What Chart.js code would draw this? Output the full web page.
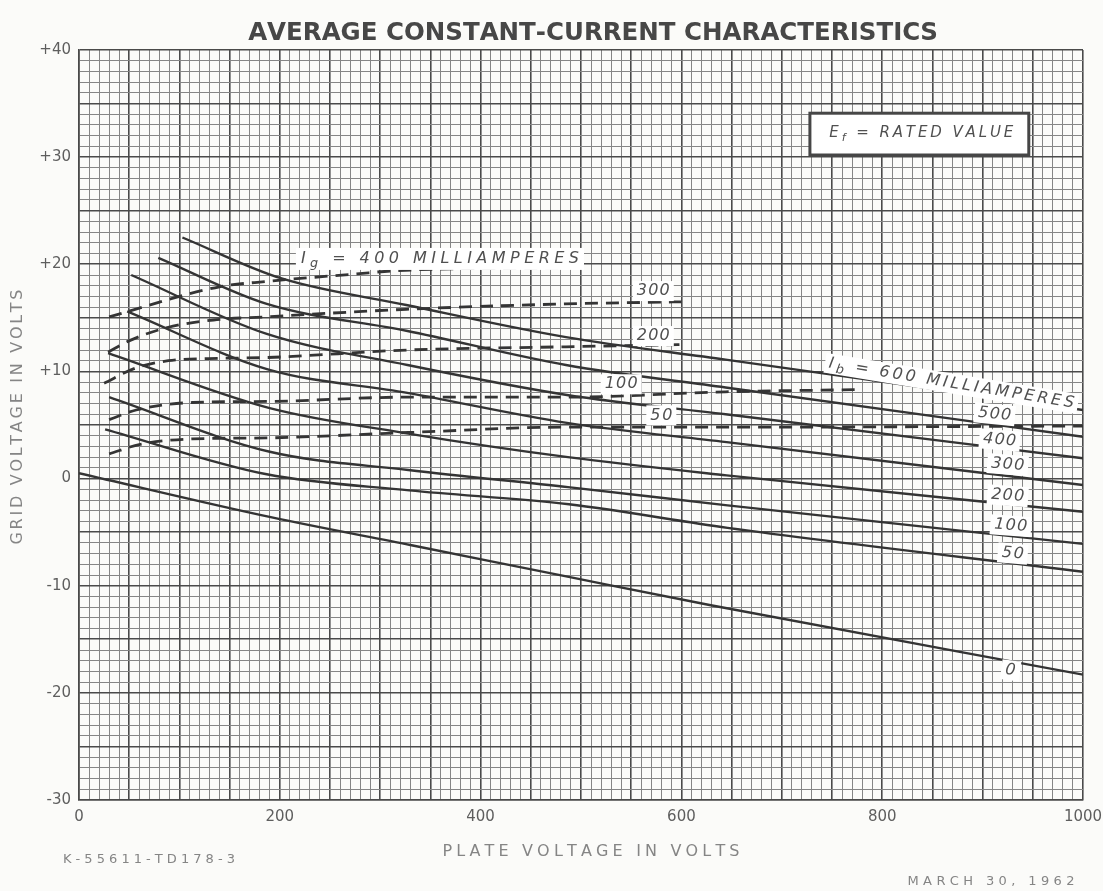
<!DOCTYPE html>
<html>
<head>
<meta charset="utf-8">
<title>Average Constant-Current Characteristics</title>
<script src="https://cdn.jsdelivr.net/npm/chart.js@4.4.1/dist/chart.umd.min.js"></script>
<style>
  html, body { margin: 0; padding: 0; background: #fbfbf9; }
  #wrap { width: 1103px; height: 891px; }
</style>
</head>
<body>
<div id="wrap"><canvas id="chart" width="1103" height="891"></canvas></div>
<script>
"use strict";

// ── DATA: constant plate-current curves, Ib (mA) ──
//    plate volts / grid volts
const ib0Plate   = [0, 191, 330, 489, 628, 1000];
const ib0Grid    = [0.5, -3.6, -6.2, -9.2, -11.8, -18.3];
const ib50Plate  = [26, 187, 329, 488, 646, 1000];
const ib50Grid   = [4.6, 0.4, -1.1, -2.4, -4.6, -8.7];
const ib100Plate = [30, 190, 328, 487, 646, 1000];
const ib100Grid  = [7.6, 2.5, 0.8, -0.8, -2.5, -6.1];
const ib200Plate = [29, 189, 328, 487, 645, 1000];
const ib200Grid  = [11.7, 6.6, 4.2, 2.0, 0.3, -3.1];
const ib300Plate = [48, 188, 327, 486, 645, 1000];
const ib300Grid  = [15.6, 10.2, 8.0, 5.2, 3.4, -0.6];
const ib400Plate = [52, 187, 327, 486, 644, 1000];
const ib400Grid  = [19.0, 13.5, 10.6, 7.8, 6.0, 1.9];
const ib500Plate = [79, 187, 326, 485, 644, 1000];
const ib500Grid  = [20.6, 16.3, 13.8, 10.6, 8.5, 3.9];
const ib600Plate = [103, 201, 326, 485, 644, 1000];
const ib600Grid  = [22.5, 18.7, 16.2, 13.2, 11.1, 6.4];

// ── DATA: constant grid-current curves, Ig (mA), dashed ──
const ig50Plate  = [30, 61, 113, 189, 328, 486, 644, 1000];
const ig50Grid   = [2.3, 3.2, 3.7, 3.8, 4.3, 4.8, 4.8, 4.9];
const ig100Plate = [30, 57, 113, 189, 327, 485, 644, 775];
const ig100Grid  = [5.5, 6.4, 7.1, 7.2, 7.6, 7.6, 8.1, 8.3];
const ig200Plate = [25, 56, 89, 129, 188, 327, 485, 600];
const ig200Grid  = [8.9, 10.3, 11.0, 11.2, 11.3, 12.0, 12.3, 12.5];
const ig300Plate = [29, 51, 88, 134, 187, 326, 484, 600];
const ig300Grid  = [11.8, 12.9, 14.1, 14.8, 15.1, 15.8, 16.3, 16.5];
const ig400Plate = [30, 140, 187, 276, 315, 498];
const ig400Grid  = [15.1, 17.9, 18.4, 19.1, 19.4, 19.7];

// ── AXES ──
const plateMin = 0,   plateMax = 1000, plateStep = 10, plateLabelEvery = 200;
const gridMin  = -30, gridMax  = 40,   gridStep  = 1,  gridLabelEvery  = 10;

// ── CURVE TAGS (text, plate volts, grid volts) ──
const ibTagText  = ["500", "400", "300", "200", "100", "50", "0"];
const ibTagPlate = [912, 917, 925, 925, 928, 930, 928];
const ibTagGrid  = [6.0, 3.6, 1.3, -1.6, -4.4, -7.0, -17.9];
const igTagText  = ["300", "200", "100", "50"];
const igTagPlate = [572, 572, 540, 580];
const igTagGrid  = [17.5, 13.3, 8.8, 5.9];
const igTitlePlate = [221, 498];
const igTitleGrid  = [20.5, 20.5];
const ibTitlePlate = [747, 991];
const ibTitleGrid  = [10.75, 7.0];
const efBoxPlate = [728, 946];
const efBoxGrid  = [30.2, 34.1];

// ── STYLE ──
const FONT       = "'DejaVu Sans', sans-serif";
const INK        = "#343434";
const GRID_MINOR = "#858585";
const GRID_MAJOR = "#4a4a4a";
const TICK_COL   = "#5e5e5e";
const NOTE_COL   = "#505050";
const PALE_COL   = "#858585";

const curve = (xs, ys) => xs.map((x, i) => ({ x, y: ys[i] }));

function solid(xs, ys) {
  return {
    data: curve(xs, ys), borderColor: INK, borderWidth: 2.4,
    pointRadius: 0, tension: 0.4, cubicInterpolationMode: "monotone", fill: false,
  };
}
function dashed(xs, ys) {
  return Object.assign(solid(xs, ys), { borderDash: [13, 8], borderWidth: 2.8 });
}


/* ══════════════════════════════════════════
   TEXT HELPERS (letter-spaced runs, subscripts)
══════════════════════════════════════════ */
// run = [text, sizeFactor, dyFactor]
function measureRuns(ctx, runs, style, size) {
  let w = 0, n = 0;
  runs.forEach(([t, k]) => {
    ctx.font = `${style} ${size * k}px ${FONT}`;
    for (const ch of t) { w += ctx.measureText(ch).width; n++; }
  });
  return { w, n };
}

function drawRuns(ctx, runs, style, size, x, y, width) {
  const m = measureRuns(ctx, runs, style, size);
  const total = width || m.w;
  const gap = width ? (width - m.w) / (m.n - 1) : 0;
  let cx = x - total / 2;
  ctx.textAlign = "left";
  ctx.textBaseline = "middle";
  runs.forEach(([t, k, dy]) => {
    ctx.font = `${style} ${size * k}px ${FONT}`;
    for (const ch of t) {
      ctx.fillText(ch, cx, y + (dy || 0) * size);
      cx += ctx.measureText(ch).width + gap;
    }
  });
  return total;
}

// white-backed tag, rotated by angle (radians)
function tag(ctx, runs, size, x, y, angle, width, padX, padY) {
  const m = measureRuns(ctx, runs, "italic", size);
  const w = width || m.w;
  ctx.save();
  ctx.translate(x, y);
  ctx.rotate(angle);
  ctx.fillStyle = "#ffffff";
  ctx.fillRect(-w / 2 - padX, -size / 2 - padY, w + 2 * padX, size + 2 * padY);
  ctx.fillStyle = NOTE_COL;
  drawRuns(ctx, runs, "italic", size, 0, 0, width);
  ctx.restore();
}


/* ══════════════════════════════════════════
   PLUGIN — curve labels, box, page lettering
══════════════════════════════════════════ */
const sheetText = {
  id: "sheetText",
  afterDatasetsDraw(chart) {
    const ctx = chart.ctx;
    const xs = chart.scales.x, ys = chart.scales.y;
    const px = v => xs.getPixelForValue(v);
    const py = g => ys.getPixelForValue(g);

    // Ef box
    const bx0 = px(efBoxPlate[0]), bx1 = px(efBoxPlate[1]);
    const by0 = py(efBoxGrid[1]),  by1 = py(efBoxGrid[0]);
    ctx.save();
    ctx.fillStyle = "#ffffff";
    ctx.fillRect(bx0, by0, bx1 - bx0, by1 - by0);
    ctx.lineWidth = 3;
    ctx.strokeStyle = "#464646";
    ctx.strokeRect(bx0, by0, bx1 - bx0, by1 - by0);
    ctx.fillStyle = NOTE_COL;
    drawRuns(ctx, [["E", 1, 0], ["f", 0.75, 0.3], [" = RATED VALUE", 1, 0]], "italic", 15,
             (bx0 + bx1) / 2 + 2, (by0 + by1) / 2 - 1, 184);
    ctx.restore();

    // Ig = 400 MILLIAMPERES
    ctx.save();
    const igx0 = px(igTitlePlate[0]), igx1 = px(igTitlePlate[1]);
    const igy = py((igTitleGrid[0] + igTitleGrid[1]) / 2);
    tag(ctx, [["I", 1, 0], ["g", 0.8, 0.3], [" = 400 MILLIAMPERES", 1, 0]], 16,
        (igx0 + igx1) / 2, igy, 0, igx1 - igx0, 5, 3);
    ctx.restore();

    // Ib = 600 MILLIAMPERES (follows the curve)
    ctx.save();
    const ax = px(ibTitlePlate[0]), ay = py(ibTitleGrid[0]);
    const bx = px(ibTitlePlate[1]), by = py(ibTitleGrid[1]);
    const ang = Math.atan2(by - ay, bx - ax);
    tag(ctx, [["I", 1, 0], ["b", 0.8, 0.3], [" = 600 MILLIAMPERES", 1, 0]], 16,
        (ax + bx) / 2, (ay + by) / 2, ang, Math.hypot(bx - ax, by - ay), 4, 2);
    ctx.restore();

    // Ib tags on the right, tilted like their curves
    const ibCurves = [ib500Plate, ib400Plate, ib300Plate, ib200Plate, ib100Plate, ib50Plate, ib0Plate];
    const ibGrids  = [ib500Grid,  ib400Grid,  ib300Grid,  ib200Grid,  ib100Grid,  ib50Grid,  ib0Grid];
    ibTagText.forEach((t, i) => {
      const cx = ibCurves[i], cg = ibGrids[i], n = cx.length;
      const a = Math.atan2(py(cg[n - 1]) - py(cg[n - 2]), px(cx[n - 1]) - px(cx[n - 2]));
      ctx.save();
      tag(ctx, [[t, 1, 0]], 16, px(ibTagPlate[i]), py(ibTagGrid[i]), a * 0.7, t.length * 11, 4, 2);
      ctx.restore();
    });

    // Ig tags
    igTagText.forEach((t, i) => {
      ctx.save();
      tag(ctx, [[t, 1, 0]], 16, px(igTagPlate[i]), py(igTagGrid[i]), 0, t.length * 11, 4, 2);
      ctx.restore();
    });
  },

  afterDraw(chart) {
    const ctx = chart.ctx;
    ctx.save();

    // Title
    ctx.fillStyle = "#474747";
    const tRuns = [["AVERAGE CONSTANT-CURRENT CHARACTERISTICS", 1, 0]];
    const natural = measureRuns(ctx, tRuns, "bold", 24).w;
    drawRuns(ctx, tRuns, "bold", 24 * 690 / natural, 593, 34, 0);

    // Axis titles
    ctx.fillStyle = PALE_COL;
    drawRuns(ctx, [["PLATE VOLTAGE IN VOLTS", 1, 0]], "normal", 16, 591, 852, 297);
    ctx.save();
    ctx.translate(18, 417);
    ctx.rotate(-Math.PI / 2);
    drawRuns(ctx, [["GRID VOLTAGE IN VOLTS", 1, 0]], "normal", 16, 0, 0, 255);
    ctx.restore();

    // Drawing number and date
    drawRuns(ctx, [["K-55611-TD178-3", 1, 0]], "normal", 13, 149, 860, 172);
    drawRuns(ctx, [["MARCH 30, 1962", 1, 0]], "normal", 13, 991, 882, 167);

    ctx.restore();
  }
};


/* ══════════════════════════════════════════
   CHART
══════════════════════════════════════════ */
new Chart(document.getElementById("chart"), {
  type: "line",
  data: {
    datasets: [
      solid(ib0Plate, ib0Grid),
      solid(ib50Plate, ib50Grid),
      solid(ib100Plate, ib100Grid),
      solid(ib200Plate, ib200Grid),
      solid(ib300Plate, ib300Grid),
      solid(ib400Plate, ib400Grid),
      solid(ib500Plate, ib500Grid),
      solid(ib600Plate, ib600Grid),
      dashed(ig50Plate, ig50Grid),
      dashed(ig100Plate, ig100Grid),
      dashed(ig200Plate, ig200Grid),
      dashed(ig300Plate, ig300Grid),
      dashed(ig400Plate, ig400Grid),
    ]
  },
  options: {
    responsive: false,
    animation: false,
    events: [],
    layout: { padding: { top: 50, right: 20, bottom: 0, left: 0 } },
    plugins: { legend: { display: false }, tooltip: { enabled: false }, title: { display: false } },
    scales: {
      x: {
        type: "linear",
        min: plateMin, max: plateMax,
        afterFit: s => { s.height = 91; s.paddingLeft = 0; s.paddingRight = 0; },
        ticks: {
          stepSize: plateStep, autoSkip: false, maxRotation: 0, minRotation: 0,
          padding: 8, color: TICK_COL, font: { family: FONT, size: 15 },
          callback: v => (v % plateLabelEvery === 0 ? String(v) : ""),
        },
        grid: {
          drawTicks: false,
          color:     c => (c.tick && c.tick.value % 50 === 0 ? GRID_MAJOR : GRID_MINOR),
          lineWidth: c => (c.tick && c.tick.value % 50 === 0 ? 1.6 : 1),
        },
        border: { display: true, color: GRID_MAJOR, width: 1.6 },
      },
      y: {
        type: "linear",
        min: gridMin, max: gridMax,
        afterFit: s => { s.width = 79; s.paddingTop = 0; s.paddingBottom = 0; },
        ticks: {
          stepSize: gridStep, autoSkip: false,
          padding: 8, color: TICK_COL, font: { family: FONT, size: 15 },
          callback: v => (v % gridLabelEvery === 0 ? (v > 0 ? "+" + v : String(v)) : ""),
        },
        grid: {
          drawTicks: false,
          color:     c => (c.tick && c.tick.value % 5 === 0 ? GRID_MAJOR : GRID_MINOR),
          lineWidth: c => (c.tick && c.tick.value % 5 === 0 ? 1.6 : 1),
        },
        border: { display: true, color: GRID_MAJOR, width: 1.6 },
      }
    }
  },
  plugins: [sheetText]
});
</script>
</body>
</html>
